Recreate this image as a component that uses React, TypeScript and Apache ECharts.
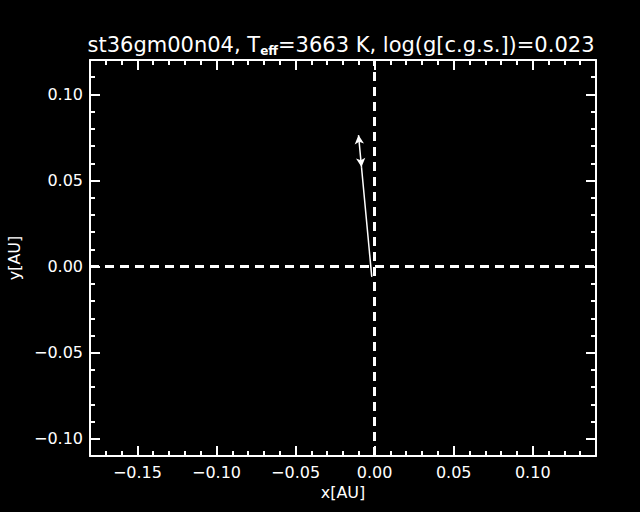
import React, { useEffect, useRef } from "react";
import * as echarts from "echarts";

const X_MIN = -0.18;
const X_MAX = 0.14;
const Y_MIN = -0.11;
const Y_MAX = 0.12;
const X_MAJOR = [-0.15, -0.1, -0.05, 0.0, 0.05, 0.1];
const X_MINOR = [-0.18, -0.17, -0.16, -0.15, -0.14, -0.13, -0.12, -0.11, -0.1, -0.09, -0.08, -0.07, -0.06, -0.05, -0.04, -0.03, -0.02, -0.01, 0.0, 0.01, 0.02, 0.03, 0.04, 0.05, 0.06, 0.07, 0.08, 0.09, 0.1, 0.11, 0.12, 0.13, 0.14];
const Y_MAJOR = [-0.1, -0.05, 0.0, 0.05, 0.1];
const Y_MINOR = [-0.11, -0.1, -0.09, -0.08, -0.07, -0.06, -0.05, -0.04, -0.03, -0.02, -0.01, 0.0, 0.01, 0.02, 0.03, 0.04, 0.05, 0.06, 0.07, 0.08, 0.09, 0.1, 0.11, 0.12];
const TRACK_X = [-0.0018, -0.0083];
const TRACK_Y = [-0.006, 0.0578];
const ARROW_X = [-0.0083, -0.0102];
const ARROW_Y = [0.0578, 0.0764];

const FONT = "DejaVu Sans";
const WHITE = "#ffffff";

const fmt = (v: number) => (v < -1e-9 ? "\u2212" : "") + Math.abs(v).toFixed(2);

function makeAxis(kind: "x" | "y", position: string, ticks: number[], len: number, withLine: boolean, withLabels: boolean, name?: string) {
  const isX = kind === "x";
  return {
    type: "value",
    position,
    min: isX ? X_MIN : Y_MIN,
    max: isX ? X_MAX : Y_MAX,
    name: name || "",
    nameLocation: "middle",
    nameGap: isX ? 28 : 68,
    nameTextStyle: { color: WHITE, fontSize: 16, fontFamily: FONT },
    axisLine: { show: withLine, onZero: false, lineStyle: { color: WHITE, width: 2 } },
    axisTick: { show: true, inside: true, length: len, customValues: ticks, lineStyle: { color: WHITE, width: 2 } },
    axisLabel: {
      show: withLabels,
      customValues: ticks,
      formatter: fmt,
      color: WHITE,
      fontSize: 16,
      fontFamily: FONT,
      margin: isX ? 8 : 7,
    },
    splitLine: { show: false },
    minorTick: { show: false },
  };
}

export default function App() {
  const ref = useRef<HTMLDivElement>(null);
  useEffect(() => {
    if (!ref.current) return;
    const chart = echarts.init(ref.current, null, { renderer: "svg" });
    const track = TRACK_X.map((x, i) => [x, TRACK_Y[i]]);
    chart.setOption({
      animation: false,
      backgroundColor: "#000000",
      grid: { left: 90, top: 60, width: 506, height: 396, containLabel: false, outerBoundsMode: "none" },
      xAxis: [
        makeAxis("x", "bottom", X_MAJOR, 10, true, true, "x[AU]"),
        makeAxis("x", "bottom", X_MINOR, 5, false, false),
        makeAxis("x", "top", X_MAJOR, 10, true, false),
        makeAxis("x", "top", X_MINOR, 5, false, false),
      ],
      yAxis: [
        makeAxis("y", "left", Y_MAJOR, 10, true, true, "y[AU]"),
        makeAxis("y", "left", Y_MINOR, 5, false, false),
        makeAxis("y", "right", Y_MAJOR, 10, true, false),
        makeAxis("y", "right", Y_MINOR, 5, false, false),
      ],
      graphic: [
        {
          type: "text",
          x: 341,
          y: 45,
          style: {
            text: "{a|st36gm00n04, T}{b|eff}{a|=3663 K, log(g[c.g.s.])=0.023}",
            align: "center",
            verticalAlign: "middle",
            rich: {
              a: { fill: WHITE, fontSize: 21, fontFamily: FONT, lineHeight: 24, verticalAlign: "middle" },
              b: { fill: WHITE, fontSize: 12, fontFamily: FONT, fontWeight: "bold", lineHeight: 12, verticalAlign: "bottom", padding: [10, 0, 0, 0] },
            },
          },
        },
      ],
      series: [
        {
          type: "line",
          xAxisIndex: 0,
          yAxisIndex: 0,
          data: track,
          symbol: "none",
          lineStyle: { color: WHITE, width: 1.5 },
          silent: true,
          markLine: {
            silent: true,
            symbol: "none",
            label: { show: false },
            lineStyle: { color: WHITE, width: 3, type: [9, 6] },
            data: [{ xAxis: 0 }, { yAxis: 0 }],
          },
        },
        {
          type: "line",
          xAxisIndex: 0,
          yAxisIndex: 0,
          data: [],
          symbol: "none",
          silent: true,
          markLine: {
            silent: true,
            symbol: ["arrow", "arrow"],
            symbolSize: [7, 9],
            label: { show: false },
            lineStyle: { color: WHITE, width: 1.5, type: "solid" },
            data: [
              [
                { coord: [ARROW_X[0], ARROW_Y[0]] },
                { coord: [ARROW_X[1], ARROW_Y[1]] },
              ],
            ],
          },
        },
      ],
    });
    return () => chart.dispose();
  }, []);
  return <div ref={ref} style={{ position: "fixed", left: 0, top: 0, width: 640, height: 512 }} />;
}
